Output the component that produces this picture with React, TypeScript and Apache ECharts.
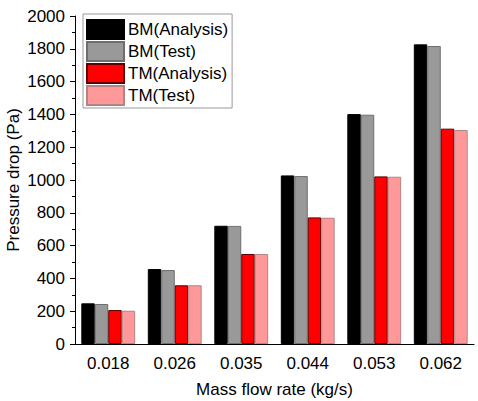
import React, { useEffect, useRef } from "react";
import * as echarts from "echarts";

const categories = ["0.018", "0.026", "0.035", "0.044", "0.053", "0.062"];
const bmAnalysis = [248, 457, 721, 1028, 1402, 1827];
const bmTest = [244, 451, 720, 1024, 1398, 1817];
const tmAnalysis = [207, 358, 549, 772, 1022, 1313];
const tmTest = [203, 358, 549, 770, 1020, 1305];
const seriesNames = ["BM(Analysis)", "BM(Test)", "TM(Analysis)", "TM(Test)"];

const FONT = "'Liberation Sans', Arial, sans-serif";

export default function App() {
  const ref = useRef<HTMLDivElement>(null);
  useEffect(() => {
    if (!ref.current) return;
    const chart = echarts.init(ref.current, undefined, { renderer: "svg" });
    const mk = (name: string, data: number[], color: string, border: string) => ({
      name,
      type: "bar",
      data,
      barGap: "0%",
      barCategoryGap: "19%",
      itemStyle: { color, borderColor: border, borderWidth: 1 },
    });
    chart.setOption({
      animation: false,
      textStyle: { fontFamily: FONT },
      grid: {
        left: 75,
        right: 4,
        top: 16,
        bottom: 57,
        containLabel: false,
        outerBoundsMode: "none",
      },
      legend: {
        orient: "vertical",
        left: 83,
        top: 14,
        data: seriesNames.map((n) => ({ name: n, icon: "rect" })),
        itemWidth: 37,
        itemHeight: 19,
        itemGap: 1,
        padding: [5, 4, 2, 3],
        borderColor: "#999",
        borderWidth: 1,
        textStyle: { fontSize: 17, color: "#000", fontFamily: FONT, padding: [0, 0, 0, -1] },
      },
      xAxis: {
        type: "category",
        data: categories,
        name: "Mass flow rate (kg/s)",
        nameLocation: "middle",
        nameGap: 37,
        nameMoveOverlap: false,
        nameTextStyle: { fontSize: 17, color: "#000", fontFamily: FONT },
        axisLine: { lineStyle: { color: "#000", width: 1 } },
        axisTick: { alignWithLabel: true, length: 5, lineStyle: { color: "#000" } },
        axisLabel: { fontSize: 17, color: "#000", margin: 11, fontFamily: FONT },
      },
      yAxis: {
        type: "value",
        min: 0,
        max: 2000,
        interval: 200,
        name: "Pressure drop (Pa)",
        nameLocation: "middle",
        nameGap: 53,
        nameMoveOverlap: false,
        nameTextStyle: { fontSize: 17, color: "#000", fontFamily: FONT },
        axisLine: { show: true, lineStyle: { color: "#000", width: 1 } },
        axisTick: { show: true, length: 5, lineStyle: { color: "#000" } },
        minorTick: { show: true, splitNumber: 2, length: 3, lineStyle: { color: "#000" } },
        splitLine: { show: false },
        axisLabel: {
          fontSize: 17,
          color: "#000",
          margin: 10,
          fontFamily: FONT,
          formatter: (v: number) => String(v),
        },
      },
      series: [
        mk(seriesNames[0], bmAnalysis, "#000000", "#000000"),
        mk(seriesNames[1], bmTest, "#999999", "#6e6e6e"),
        mk(seriesNames[2], tmAnalysis, "#ff0000", "#5a0000"),
        mk(seriesNames[3], tmTest, "#ff9999", "#b08484"),
      ],
    });
    return () => chart.dispose();
  }, []);
  return (
    <div
      ref={ref}
      style={{ position: "fixed", left: 0, top: 0, width: 478, height: 401, background: "#fff" }}
    />
  );
}
